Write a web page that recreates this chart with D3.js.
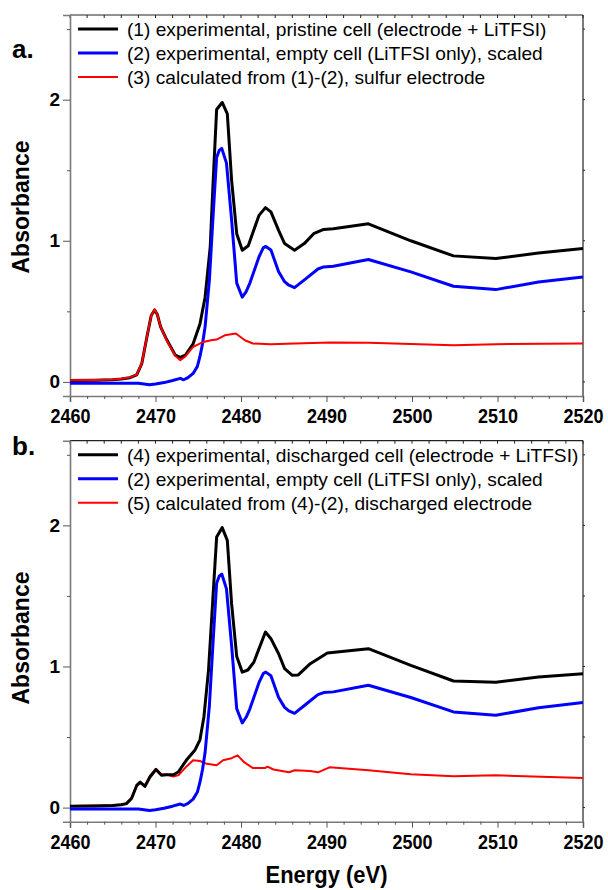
<!DOCTYPE html>
<html>
<head>
<meta charset="utf-8">
<script src="https://cdn.jsdelivr.net/npm/d3@7"></script>
<style>
  body { margin: 0; background: #fff; }
  svg { display: block; font-family: "Liberation Sans", Arial, sans-serif; }
</style>
</head>
<body>
<svg id="chart" width="608" height="890"></svg>
<script>
// spectra: [energy (eV), absorbance]
const pristineCell = [
  [2460, 0.01], [2463, 0.012], [2465, 0.015], [2466, 0.02], [2467, 0.03], [2467.8, 0.05],
  [2468.4, 0.13], [2469, 0.32], [2469.5, 0.47], [2469.9, 0.51], [2470.2, 0.48], [2470.6, 0.39],
  [2471.3, 0.30], [2472.3, 0.19], [2472.9, 0.173], [2473.5, 0.19], [2474.4, 0.27], [2475.2, 0.41],
  [2475.8, 0.60], [2476.4, 0.956], [2476.75, 1.43], [2477.15, 1.93], [2477.8, 1.98], [2478.4, 1.90],
  [2478.9, 1.43], [2479.5, 1.05], [2480.15, 0.933], [2480.85, 0.965], [2482.1, 1.18], [2482.86, 1.235],
  [2483.5, 1.205], [2484.4, 1.074], [2485.1, 0.98], [2486.26, 0.933], [2487.4, 0.98], [2488.5, 1.05],
  [2489.67, 1.08], [2490.8, 1.085], [2494.9, 1.12], [2499.86, 1.0], [2504.85, 0.893], [2509.8, 0.874],
  [2514.8, 0.914], [2520, 0.945]
];

const emptyCell = [
  [2460, -0.01], [2463, -0.01], [2466, -0.01], [2468, -0.01], [2469.3, -0.02], [2470, -0.015],
  [2471, -0.005], [2472, 0.01], [2472.9, 0.025], [2473.3, 0.015], [2473.8, 0.03], [2474.4, 0.06],
  [2474.9, 0.11], [2475.2, 0.18], [2475.5, 0.27], [2475.8, 0.39], [2476.3, 0.72], [2476.75, 1.19],
  [2477.15, 1.59], [2477.45, 1.64], [2477.75, 1.655], [2478.3, 1.55], [2478.9, 1.15], [2479.5, 0.70],
  [2480.15, 0.60], [2480.6, 0.64], [2481.04, 0.70], [2482.1, 0.885], [2482.6, 0.95], [2482.9, 0.96],
  [2483.5, 0.935], [2484.4, 0.78], [2485.1, 0.71], [2485.6, 0.685], [2486.26, 0.668], [2487.6, 0.732],
  [2489.0, 0.80], [2489.67, 0.815], [2490.8, 0.82], [2494.9, 0.867], [2499.86, 0.78], [2504.85, 0.678],
  [2509.8, 0.654], [2514.8, 0.708], [2520, 0.744]
];

const sulfurElectrode = [
  [2460, 0.012], [2463, 0.014], [2465, 0.017], [2466, 0.022], [2467, 0.032], [2467.8, 0.052],
  [2468.4, 0.13], [2469, 0.32], [2469.5, 0.47], [2469.9, 0.513], [2470.2, 0.48], [2470.6, 0.39],
  [2471.3, 0.295], [2472.3, 0.185], [2472.9, 0.154], [2473.5, 0.18], [2474.4, 0.248], [2475.6, 0.283],
  [2476.5, 0.295], [2477.15, 0.30], [2478.1, 0.33], [2479.4, 0.343], [2480.45, 0.295], [2481.4, 0.272],
  [2483.5, 0.267], [2486.3, 0.272], [2490.4, 0.28], [2494.9, 0.277], [2504.85, 0.26], [2509.8, 0.267],
  [2520, 0.272]
];

const dischargedCell = [
  [2460, 0.01], [2463, 0.012], [2465, 0.015], [2466, 0.02], [2466.6, 0.028], [2467.2, 0.064],
  [2467.8, 0.157], [2468.2, 0.18], [2468.77, 0.15], [2469.35, 0.217], [2470.05, 0.27], [2470.7, 0.229],
  [2471.3, 0.233], [2472.1, 0.233], [2472.66, 0.252], [2473.6, 0.335], [2474.6, 0.406], [2475.2, 0.48],
  [2475.66, 0.642], [2476.2, 0.973], [2476.7, 1.47], [2477.15, 1.917], [2477.8, 1.984], [2478.4, 1.894],
  [2478.9, 1.445], [2479.5, 1.07], [2480.15, 0.96], [2480.8, 0.975], [2481.5, 1.03], [2482.86, 1.244],
  [2483.5, 1.197], [2484.4, 1.09], [2485.1, 0.985], [2486.0, 0.937], [2486.7, 0.94], [2488.1, 1.02],
  [2490.1, 1.095], [2494.9, 1.126], [2499.86, 1.008], [2504.85, 0.897], [2509.8, 0.888], [2514.8, 0.925],
  [2520, 0.949]
];

const dischargedElectrode = [
  [2460, 0.012], [2463, 0.014], [2465, 0.017], [2466, 0.022], [2466.6, 0.03], [2467.2, 0.07],
  [2467.8, 0.15], [2468.2, 0.175], [2468.8, 0.16], [2469.35, 0.225], [2470.05, 0.275], [2470.7, 0.235],
  [2471.3, 0.235], [2472.1, 0.22], [2472.7, 0.23], [2473.6, 0.29], [2474.4, 0.335], [2475.2, 0.33],
  [2476.0, 0.31], [2477.15, 0.30], [2477.9, 0.335], [2478.9, 0.35], [2479.6, 0.37], [2480.4, 0.32],
  [2481.4, 0.28], [2482.8, 0.28], [2483.1, 0.29], [2483.8, 0.27], [2485.6, 0.25], [2486.3, 0.265],
  [2488.1, 0.26], [2489.0, 0.25], [2490.35, 0.285], [2494.9, 0.264], [2499.86, 0.236], [2504.85, 0.222],
  [2509.8, 0.229], [2520, 0.21]
];

const legendA = [
  "(1) experimental, pristine cell (electrode + LiTFSI)",
  "(2) experimental, empty cell (LiTFSI only), scaled",
  "(3) calculated from (1)-(2), sulfur electrode"
];
const legendB = [
  "(4) experimental, discharged cell (electrode + LiTFSI)",
  "(2) experimental, empty cell (LiTFSI only), scaled",
  "(5) calculated from (4)-(2), discharged electrode"
];

const energyTicks = [2460, 2470, 2480, 2490, 2500, 2510, 2520];
const energyMinor = [2462, 2464, 2466, 2468, 2472, 2474, 2476, 2478, 2482, 2484, 2486, 2488,
  2492, 2494, 2496, 2498, 2502, 2504, 2506, 2508, 2512, 2514, 2516, 2518];
const absTicks = [0, 1, 2];
const absMinor = [0.5, 1.5, 2.5];

const svg = d3.select('#chart');
const plotLeft = 70, plotRight = 583, plotHeight = 381;

const x = d3.scaleLinear().domain([2460, 2520]).range([plotLeft, plotRight]);

function drawPanel(cfg) {
  const top = cfg.top;
  const bottom = top + plotHeight;
  const y = d3.scaleLinear().domain([-0.1, 2.6]).range([bottom, top]);
  const g = svg.append('g');

  // clip so lines stay inside the frame
  const clipId = 'clip-' + cfg.label.replace('.', '');
  svg.append('defs').append('clipPath').attr('id', clipId)
    .append('rect')
    .attr('x', plotLeft).attr('y', top)
    .attr('width', plotRight - plotLeft).attr('height', plotHeight);

  // frame (top + right thin dark)
  g.append('line').attr('x1', plotLeft).attr('x2', plotRight).attr('y1', top).attr('y2', top)
    .attr('stroke', '#222').attr('stroke-width', 1.2);
  g.append('line').attr('x1', plotRight).attr('x2', plotRight).attr('y1', top).attr('y2', bottom)
    .attr('stroke', '#222').attr('stroke-width', 1.2);

  // top ticks (inward)
  g.selectAll('.ttick').data(energyTicks.concat(energyMinor)).enter().append('line')
    .attr('x1', d => x(d)).attr('x2', d => x(d))
    .attr('y1', top).attr('y2', top + 3)
    .attr('stroke', '#222');

  // right ticks (outward, short)
  g.selectAll('.rtick').data(absTicks.concat(absMinor)).enter().append('line')
    .attr('x1', plotRight).attr('x2', plotRight + 2)
    .attr('y1', d => y(d)).attr('y2', d => y(d))
    .attr('stroke', '#222');

  // bottom axis
  const xAxis = g.append('g').attr('transform', `translate(0,${bottom})`)
    .call(d3.axisBottom(x).tickValues(energyTicks).tickSize(6).tickPadding(7).tickFormat(d3.format('d')));
  g.append('g').attr('transform', `translate(0,${bottom})`)
    .call(d3.axisBottom(x).tickValues(energyMinor).tickSize(3).tickFormat(''))
    .call(a => a.select('.domain').remove());

  // left axis
  const yAxis = g.append('g').attr('transform', `translate(${plotLeft},0)`)
    .call(d3.axisLeft(y).tickValues(absTicks).tickSize(7).tickPadding(3).tickFormat(d3.format('d')));
  g.append('g').attr('transform', `translate(${plotLeft},0)`)
    .call(d3.axisLeft(y).tickValues(absMinor).tickSize(3).tickFormat(''))
    .call(a => a.select('.domain').remove());

  g.selectAll('.domain').attr('stroke', '#7a7a7a').attr('stroke-width', 1.6);
  g.selectAll('.tick line').attr('stroke', '#555').attr('stroke-width', 1);

  xAxis.selectAll('.tick text')
    .attr('fill', '#000')
    .style('font-size', '20px').style('font-weight', 'bold')
    .attr('textLength', 40).attr('lengthAdjust', 'spacingAndGlyphs');
  yAxis.selectAll('.tick text')
    .attr('fill', '#000')
    .style('font-size', '19px').style('font-weight', 'bold');

  // y axis title
  svg.append('text')
    .attr('transform', `translate(29,${cfg.titleY}) rotate(-90)`)
    .attr('text-anchor', 'middle')
    .style('font-size', '23px').style('font-weight', 'bold')
    .attr('textLength', 133).attr('lengthAdjust', 'spacingAndGlyphs')
    .text('Absorbance');

  // panel letter
  svg.append('text')
    .attr('x', 12).attr('y', cfg.labelY)
    .style('font-size', '26px').style('font-weight', 'bold')
    .text(cfg.label);

  // spectra, drawn in the stacking order of the original
  const line = d3.line().x(d => x(d[0])).y(d => y(d[1]));
  const lines = g.append('g').attr('clip-path', `url(#${clipId})`);
  cfg.drawOrder.forEach(i => {
    const s = cfg.series[i];
    lines.append('path')
      .datum(s.data)
      .attr('d', line)
      .attr('fill', 'none')
      .attr('stroke', s.color)
      .attr('stroke-width', s.width)
      .attr('stroke-linejoin', 'round');
  });

  // legend
  const legend = g.append('g');
  cfg.series.forEach((s, i) => {
    const ly = top + 14 + i * 24;
    legend.append('line')
      .attr('x1', 78).attr('x2', 118).attr('y1', ly).attr('y2', ly)
      .attr('stroke', s.color).attr('stroke-width', s.width);
    const t = legend.append('text')
      .attr('x', 127).attr('y', ly + 7)
      .style('font-size', '18.5px')
      .text(cfg.legend[i]);
    t.attr('textLength', t.node().getComputedTextLength() * 1.034)
      .attr('lengthAdjust', 'spacingAndGlyphs');
  });
}

drawPanel({
  top: 15, label: 'a.', labelY: 58, titleY: 207, legend: legendA, drawOrder: [0, 1, 2],
  series: [
    { data: pristineCell, color: '#000000', width: 3 },
    { data: emptyCell, color: '#0000ff', width: 3 },
    { data: sulfurElectrode, color: '#ff0000', width: 2 }
  ]
});

drawPanel({
  top: 440.7, label: 'b.', labelY: 455, titleY: 638, legend: legendB, drawOrder: [2, 0, 1],
  series: [
    { data: dischargedCell, color: '#000000', width: 3 },
    { data: emptyCell, color: '#0000ff', width: 3 },
    { data: dischargedElectrode, color: '#ff0000', width: 2 }
  ]
});

// x axis title
svg.append('text')
  .attr('x', (plotLeft + plotRight) / 2).attr('y', 883)
  .attr('text-anchor', 'middle')
  .style('font-size', '23px').style('font-weight', 'bold')
  .attr('textLength', 122).attr('lengthAdjust', 'spacingAndGlyphs')
  .text('Energy (eV)');
</script>
</body>
</html>
